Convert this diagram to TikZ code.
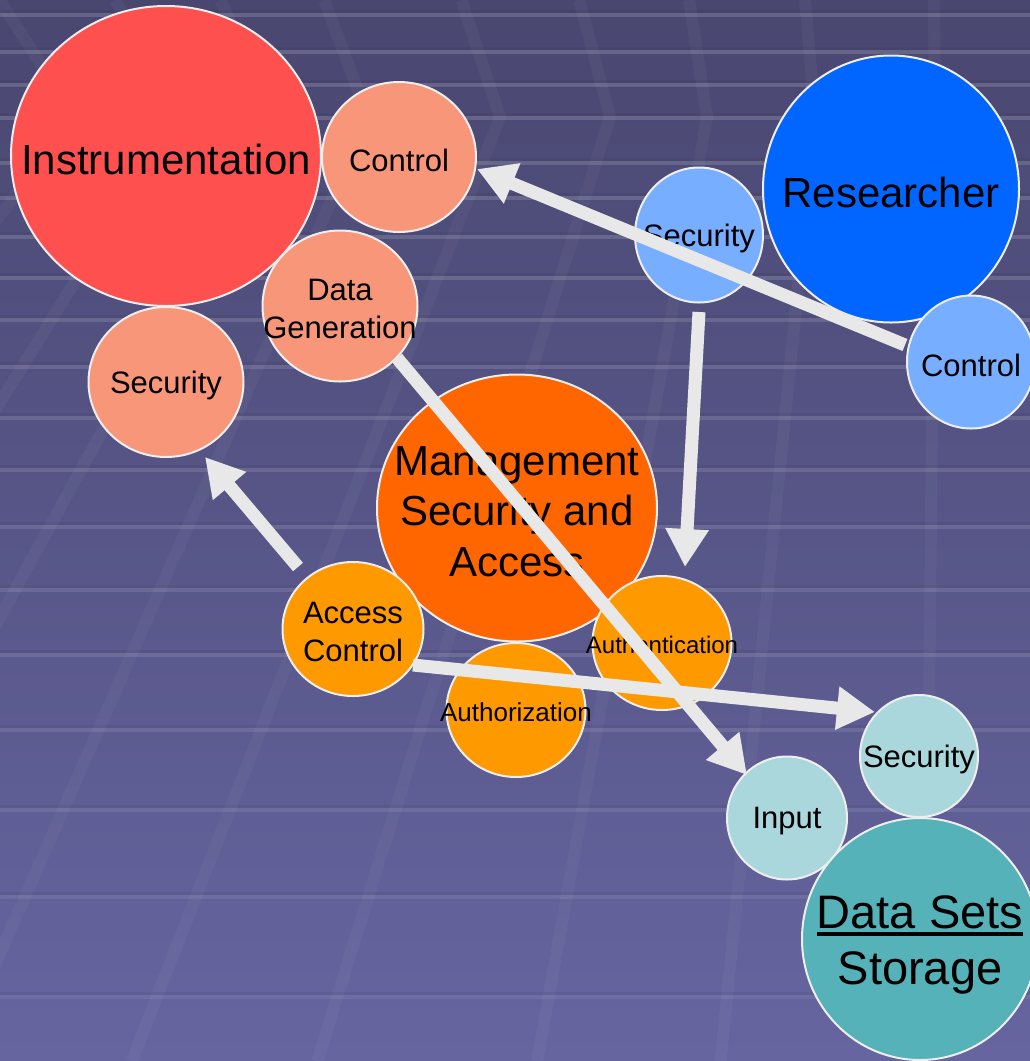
\documentclass[tikz,border=0pt]{standalone}
\usepackage{fontspec}
\setmainfont{Liberation Sans}
\usetikzlibrary{shapes.geometric,arrows.meta,calc}
\definecolor{bgtop}{HTML}{494770}
\definecolor{bgbot}{HTML}{6665A0}
\definecolor{bordercol}{HTML}{EEEEEE}
\definecolor{arrowcol}{HTML}{E8E8E8}
\definecolor{instrcol}{HTML}{FF5050}
\definecolor{instrsub}{HTML}{F8967A}
\definecolor{rescol}{HTML}{0066FF}
\definecolor{ressub}{HTML}{78AEFF}
\definecolor{mgmtcol}{HTML}{FF6600}
\definecolor{mgmtsub}{HTML}{FF9900}
\definecolor{datacol}{HTML}{55B2B8}
\definecolor{datasub}{HTML}{AAD7DC}
\newcommand\ulinetext[1]{\setbox0\hbox{#1}\rlap{\box0}\setbox0\hbox{#1}\rule[-8pt]{\wd0}{4pt}}
\begin{document}
\begin{tikzpicture}[x=1pt,y=-1pt,
  bub/.style={ellipse, draw=bordercol, line width=2pt, inner sep=0pt, outer sep=0pt},
  big/.style={font=\fontsize{42}{50.4}\selectfont, align=center, text=black, yshift=-3.5pt},
  huge/.style={font=\fontsize{47}{56.4}\selectfont, align=center, text=black, yshift=-6pt},
  small/.style={font=\fontsize{31}{37.2}\selectfont, align=center, text=black, yshift=-3pt},
  tiny/.style={align=center, text=black, yshift=-2pt},
  arr/.style={draw=arrowcol, line width=13pt, -{Triangle[length=38pt,width=41pt]}},
  stripe/.style={line width=3.5pt},
  slant/.style={draw=white, opacity=0.035, line width=12pt}]
\useasboundingbox (0,0) rectangle (1030,1061);
% background
\shade[top color=bgtop, bottom color=bgbot] (0,0) rectangle (1030,1061);
\foreach \yy in {15,52,85,118,163,198,237,278,320,367,418,470,527,590,655,730,810,897,997}{
  \pgfmathsetmacro\op{0.16-0.09*\yy/1061}
  \draw[stripe, draw=black, opacity=0.05] (0,\yy-3.5) -- (1030,\yy-3.5);
  \draw[stripe, draw=white, opacity=\op] (0,\yy) -- (1030,\yy);
}
\foreach \kx/\s in {75/-0.76,177/-0.62,275/-0.55,368/-0.44,500/-0.39,610/-0.31,707/-0.18,815/-0.10,935/-0.01}{
  \draw[slant] (\kx+0.85*\s*117,0) -- (\kx,117) -- (\kx+\s*944,1061);
}
% Instrumentation group
\node[bub, fill=instrcol, minimum width=310pt, minimum height=300pt,
  label={[big]center:Instrumentation}] (instr) at (166,156) {};
\node[bub, fill=instrsub, minimum width=154pt, minimum height=150pt,
  label={[small]center:Control}] (ctrlI) at (399,157) {};
\node[bub, fill=instrsub, minimum width=155pt, minimum height=151pt,
  label={[small]center:{Data\\Generation}}] (dgen) at (340,306) {};
\node[bub, fill=instrsub, minimum width=155pt, minimum height=150pt,
  label={[small]center:Security}] (secI) at (166,382) {};
% Researcher group
\node[bub, fill=rescol, minimum width=256pt, minimum height=267pt,
  label={[big]center:Researcher}] (res) at (891,189) {};
\node[bub, fill=ressub, minimum width=128pt, minimum height=135pt,
  label={[small]center:Security}] (secR) at (699,235) {};
\node[bub, fill=ressub, minimum width=128pt, minimum height=133pt,
  label={[small]center:Control}] (ctrlR) at (971,362) {};
% Management group
\node[bub, fill=mgmtcol, minimum width=280pt, minimum height=267pt,
  label={[big]center:{Management\\Security and\\Access}}] (mgmt) at (517,508) {};
\node[bub, fill=mgmtsub, minimum width=141pt, minimum height=134pt,
  label={[small]center:{Access\\Control}}] (acc) at (353,629) {};
\node[bub, fill=mgmtsub, minimum width=139pt, minimum height=134pt,
  label={[tiny, font=\fontsize{24}{28}\selectfont]center:Authentication}] (authn) at (662,643) {};
\node[bub, fill=mgmtsub, minimum width=139pt, minimum height=134pt,
  label={[tiny, font=\fontsize{26}{31}\selectfont]center:Authorization}] (authz) at (516,710) {};
% Data sets group
\node[bub, fill=datasub, minimum width=120pt, minimum height=123pt,
  label={[small]center:Input}] (input) at (787,818) {};
\node[bub, fill=datasub, minimum width=118pt, minimum height=122pt,
  label={[small]center:Security}] (secS) at (919,756) {};
\node[bub, fill=datacol, minimum width=236pt, minimum height=242pt,
  label={[huge]center:{\ulinetext{Data Sets}\\Storage}}] (data) at (920,939) {};
% arrows
\draw[arr] ($(ctrlR)+(-66,-17)$) -- ($(ctrlI)+(78,12)$);
\draw[arr] ($(secR)+(0,77)$) -- ($(authn)+(23,-76)$);
\draw[arr] ($(dgen)+(57,52)$) -- ($(input)+(-40,-43)$);
\draw[arr] ($(acc)+(-55,-62)$) -- ($(secI)+(39,75)$);
\draw[arr] ($(acc)+(60,36)$) -- ($(secS)+(-44,-44)$);
\end{tikzpicture}
\end{document}
